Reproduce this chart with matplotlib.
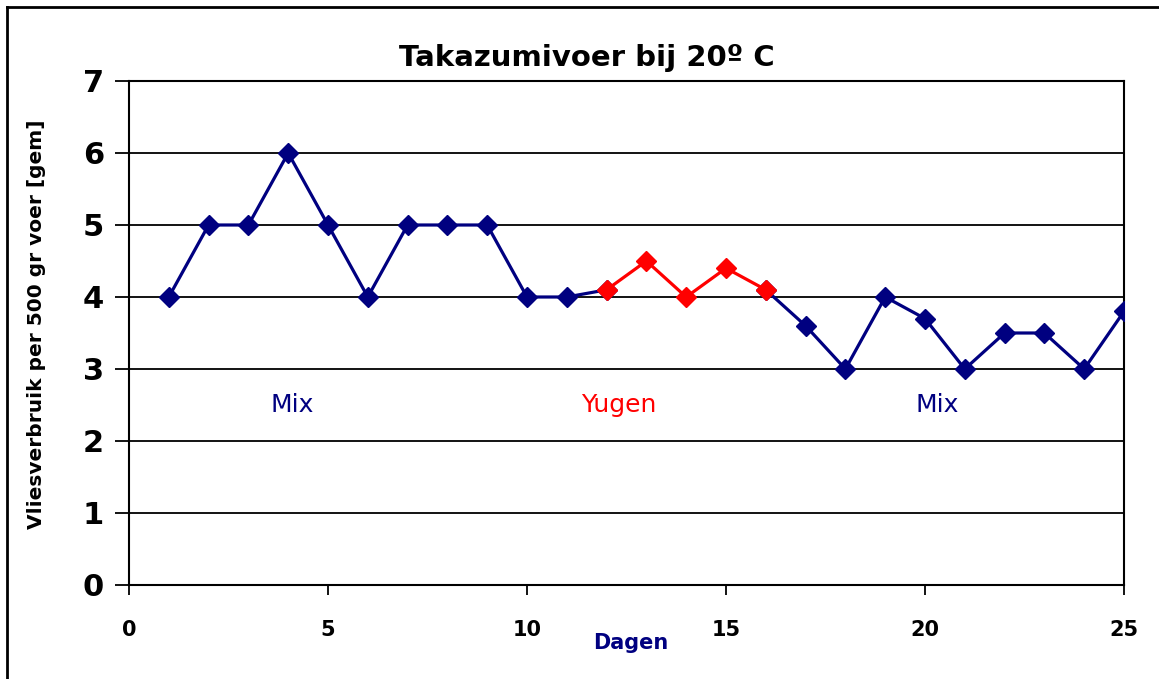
import matplotlib

matplotlib.use("Agg")
import matplotlib.pyplot as plt
from matplotlib.lines import Line2D

NAVY = "#000080"
RED = "#FF0000"

# dagen en waarden
mix1_days = [1, 2, 3, 4, 5, 6, 7, 8, 9, 10, 11, 12]
mix1_vals = [4, 5, 5, 6, 5, 4, 5, 5, 5, 4, 4, 4.1]
yugen_days = [12, 13, 14, 15, 16]
yugen_vals = [4.1, 4.5, 4.0, 4.4, 4.1]
mix2_days = [16, 17, 18, 19, 20, 21, 22, 23, 24, 25]
mix2_vals = [4.1, 3.6, 3.0, 4.0, 3.7, 3.0, 3.5, 3.5, 3.0, 3.8]

x_ticks = [0, 5, 10, 15, 20, 25]
y_ticks = [0, 1, 2, 3, 4, 5, 6, 7]

W, H = 1159, 679
fig = plt.figure(figsize=(W / 100, H / 100), dpi=100)
ax = fig.add_axes([129 / W, 1 - 585 / H, (1124 - 129) / W, (585 - 81) / H])

for yv in y_ticks[1:]:
    ax.axhline(yv, color="black", linewidth=1.3, zorder=1)

style = dict(marker="D", markersize=10.5, linewidth=2.3, zorder=3)
ax.plot(mix1_days, mix1_vals, color=NAVY, **style)
ax.plot(mix2_days, mix2_vals, color=NAVY, **style)
ax.plot(yugen_days, yugen_vals, color=RED, **dict(style, zorder=4))

ax.text(4.1, 2.5, "Mix", color=NAVY, fontsize=18, ha="center", va="center")
ax.text(12.3, 2.5, "Yugen", color=RED, fontsize=18, ha="center", va="center")
ax.text(20.3, 2.5, "Mix", color=NAVY, fontsize=18, ha="center", va="center")

ax.set_xlim(0, 25)
ax.set_ylim(0, 7)
ax.set_xticks(x_ticks)
ax.set_yticks(y_ticks)
for lbl in ax.get_yticklabels():
    lbl.set_fontsize(22)
    lbl.set_fontweight("bold")
for lbl in ax.get_xticklabels():
    lbl.set_fontsize(15)
    lbl.set_fontweight("bold")
ax.tick_params(axis="y", direction="out", length=10, width=1.3, pad=8)
ax.tick_params(axis="x", direction="out", length=7, width=1.3, pad=18)
for sp in ax.spines.values():
    sp.set_linewidth(1.5)
    sp.set_color("black")

fig.text(37 / W, 1 - 324 / H, "Vliesverbruik per 500 gr voer [gem]", fontsize=14.5,
         fontweight="bold", rotation=90, ha="center", va="center")
fig.text(631 / W, 1 - 643 / H, "Dagen", color=NAVY, fontsize=15, fontweight="bold",
         ha="center", va="center")
fig.text(587 / W, 1 - 58 / H, "Takazumivoer bij 20º C", fontsize=21, fontweight="bold",
         ha="center", va="center")

# buitenkader (links en boven)
fig.add_artist(Line2D([7 / W, 7 / W], [0, 1 - 7 / H], transform=fig.transFigure,
                      color="black", linewidth=2))
fig.add_artist(Line2D([7 / W, 1], [1 - 7 / H, 1 - 7 / H], transform=fig.transFigure,
                      color="black", linewidth=2))

fig.savefig("out.png", dpi=100)
